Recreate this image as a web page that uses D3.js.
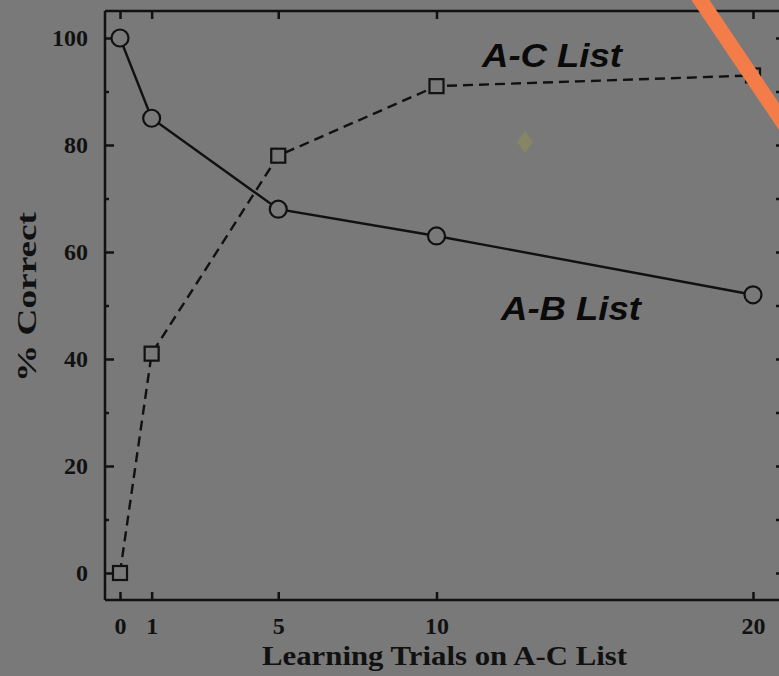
<!DOCTYPE html>
<html>
<head>
<meta charset="utf-8">
<script src="https://cdn.jsdelivr.net/npm/d3@7"></script>
<style>
	html, body { margin: 0; padding: 0; background: #797979; }
	svg { display: block; }
	.axis path, .axis line { stroke: #111; stroke-width: 2.5; }
	.axis text { font-family: 'Liberation Serif', serif; font-weight: bold; font-size: 24px; fill: #111; }
</style>
</head>
<body>
<div id="chart"></div>
<script>
'use strict';

// DATA
var trials = [0, 1, 5, 10, 20];
var abList = [100, 85, 68, 63, 52];
var acList = [0, 41, 78, 91, 93];
var yTicks = [0, 20, 40, 60, 80, 100];
var yMinorTicks = [10, 30, 50, 70, 90];
var yRightTicks = [0, 10, 20, 30, 40, 50, 60, 70, 80, 90, 100];

(function(){
	var width = 779;
	var height = 676;

	var svg = d3.select('#chart').append('svg')
		.attr('width', width)
		.attr('height', height);

	svg.append('rect')
		.attr('width', width)
		.attr('height', height)
		.attr('fill', '#797979');

	// frame edges
	var fLeft = 105, fRight = 787, fTop = 11, fBottom = 600;

	var xScale = d3.scaleLinear().domain([0, 20]).range([120, 753]);
	var yScale = d3.scaleLinear().domain([0, 100]).range([573, 38]);

	// AXES
	svg.append('g')
		.attr('class', 'axis x')
		.attr('transform', 'translate(0,' + fBottom + ')')
		.call(d3.axisBottom(xScale).tickValues(trials).tickSizeInner(-8).tickSizeOuter(0).tickPadding(17))
		.call(function(g){ g.select('.domain').attr('d', 'M' + fLeft + ',0H' + fRight); });

	svg.append('g')
		.attr('class', 'axis x-top')
		.attr('transform', 'translate(0,' + fTop + ')')
		.call(d3.axisTop(xScale).tickValues(trials).tickSizeInner(-8).tickSizeOuter(0).tickFormat(''))
		.call(function(g){ g.select('.domain').attr('d', 'M' + fLeft + ',0H' + fRight); });

	svg.append('g')
		.attr('class', 'axis y')
		.attr('transform', 'translate(' + fLeft + ',0)')
		.call(d3.axisLeft(yScale).tickValues(yTicks).tickSizeInner(-9).tickSizeOuter(0).tickPadding(17))
		.call(function(g){ g.select('.domain').attr('d', 'M0,' + fTop + 'V' + fBottom); });

	svg.append('g')
		.attr('class', 'axis y-minor')
		.attr('transform', 'translate(' + fLeft + ',0)')
		.call(d3.axisLeft(yScale).tickValues(yMinorTicks).tickSizeInner(-4).tickSizeOuter(0).tickFormat(''))
		.call(function(g){ g.select('.domain').remove(); });

	svg.append('g')
		.attr('class', 'axis y-right')
		.attr('transform', 'translate(' + fRight + ',0)')
		.call(d3.axisRight(yScale).tickValues(yRightTicks).tickSizeInner(-11).tickSizeOuter(0).tickFormat(''))
		.call(function(g){ g.select('.domain').attr('d', 'M0,' + fTop + 'V' + fBottom); });

	// LABELS
	svg.append('text')
		.attr('transform', 'translate(36,297) rotate(-90)')
		.attr('text-anchor', 'middle')
		.attr('textLength', 170)
		.attr('lengthAdjust', 'spacingAndGlyphs')
		.style('font-family', 'Liberation Serif, serif')
		.style('font-weight', 'bold')
		.style('font-size', '27px')
		.style('fill', '#111')
		.text('% Correct');

	svg.append('text')
		.attr('x', 262)
		.attr('y', 665)
		.attr('textLength', 365)
		.attr('lengthAdjust', 'spacingAndGlyphs')
		.style('font-family', 'Liberation Serif, serif')
		.style('font-weight', 'bold')
		.style('font-size', '28px')
		.style('fill', '#111')
		.text('Learning Trials on A-C List');

	// LINES
	var line = d3.line()
		.x(function(d){ return xScale(d[0]); })
		.y(function(d){ return yScale(d[1]); });

	var abPts = trials.map(function(t, i){ return [t, abList[i]]; });
	var acPts = trials.map(function(t, i){ return [t, acList[i]]; });

	svg.append('path')
		.attr('d', line(acPts))
		.attr('fill', 'none')
		.attr('stroke', '#111')
		.attr('stroke-width', 2.4)
		.attr('stroke-dasharray', '10,6');

	svg.append('path')
		.attr('d', line(abPts))
		.attr('fill', 'none')
		.attr('stroke', '#111')
		.attr('stroke-width', 2.4);

	// MARKERS
	svg.append('g').selectAll('rect').data(acPts).enter().append('rect')
		.attr('x', function(d){ return xScale(d[0]) - 7; })
		.attr('y', function(d){ return yScale(d[1]) - 7; })
		.attr('width', 14)
		.attr('height', 14)
		.attr('fill', '#797979')
		.attr('stroke', '#111')
		.attr('stroke-width', 2.2);

	svg.append('g').selectAll('circle').data(abPts).enter().append('circle')
		.attr('cx', function(d){ return xScale(d[0]); })
		.attr('cy', function(d){ return yScale(d[1]); })
		.attr('r', 8.5)
		.attr('fill', '#797979')
		.attr('stroke', '#111')
		.attr('stroke-width', 2.2);

	// SERIES LABELS
	svg.append('text')
		.attr('x', 482)
		.attr('y', 67)
		.attr('textLength', 140)
		.attr('lengthAdjust', 'spacingAndGlyphs')
		.style('font-family', 'Liberation Sans, Arial, sans-serif')
		.style('font-weight', 'bold')
		.style('font-style', 'italic')
		.style('font-size', '34px')
		.style('fill', '#0a0a0a')
		.text('A-C List');

	svg.append('text')
		.attr('x', 501)
		.attr('y', 320)
		.attr('textLength', 140)
		.attr('lengthAdjust', 'spacingAndGlyphs')
		.style('font-family', 'Liberation Sans, Arial, sans-serif')
		.style('font-weight', 'bold')
		.style('font-style', 'italic')
		.style('font-size', '34px')
		.style('fill', '#0a0a0a')
		.text('A-B List');

	// overlay marks from the photo
	svg.append('path')
		.attr('d', 'M517,142L525,131L533,142L525,153Z')
		.attr('fill', '#8b8b5c')
		.attr('opacity', 0.7);

	svg.append('line')
		.attr('x1', 697).attr('y1', -5)
		.attr('x2', 790).attr('y2', 133)
		.attr('stroke', '#f47c48')
		.attr('stroke-width', 15);
})();
</script>
</body>
</html>
